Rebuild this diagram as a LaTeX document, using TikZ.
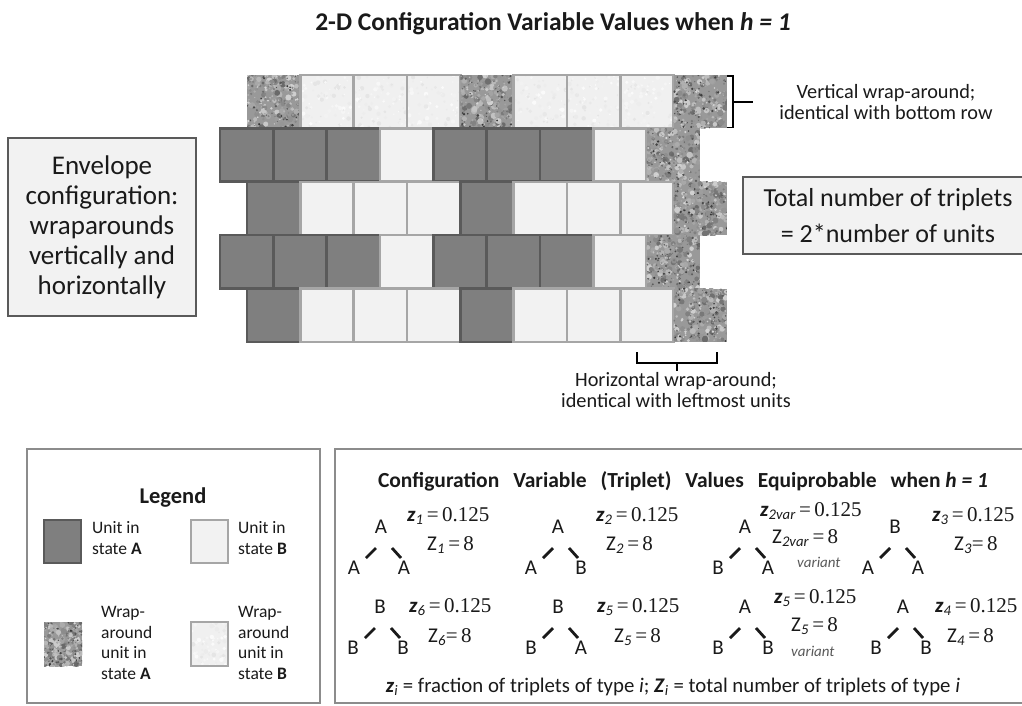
\documentclass[tikz,border=0pt]{standalone}
\usepackage{fontspec}
\setmainfont{Carlito}
\newfontfamily\numfont{Liberation Serif}
\usetikzlibrary{calc}

\definecolor{unitA}{HTML}{7F7F7F}
\definecolor{unitAedge}{HTML}{5A5A5A}
\definecolor{unitB}{HTML}{F2F2F2}
\definecolor{unitBedge}{HTML}{A6A6A6}
\definecolor{panel}{HTML}{F2F2F2}
\definecolor{panelEdge}{HTML}{5A5A5A}
\definecolor{frameEdge}{HTML}{8C8C8C}
\definecolor{ink}{HTML}{1A1A1A}

\newcommand\unitpitch{53.33}

% mottled granite texture for wrap-around units in state A
\newcommand\speckleA[4]{%
  \begin{scope}
    \clip (#1,#2) rectangle ++(#3,#4);
    \fill[black!40] (#1,#2) rectangle ++(#3,#4);
    \foreach \k in {1,...,120}{
      \pgfmathsetmacro\gx{#1+rnd*#3}
      \pgfmathsetmacro\gy{#2+rnd*#4}
      \pgfmathsetmacro\gr{1.3+rnd*2.0}
      \pgfmathtruncatemacro\gl{18+rnd*42}
      \fill[black!\gl] (\gx,\gy) circle[radius=\gr pt];
    }
    \foreach \k in {1,...,150}{
      \pgfmathsetmacro\gx{#1+rnd*#3}
      \pgfmathsetmacro\gy{#2+rnd*#4}
      \pgfmathsetmacro\gr{0.5+rnd*0.9}
      \pgfmathtruncatemacro\gl{15+rnd*65}
      \fill[black!\gl] (\gx,\gy) circle[radius=\gr pt];
    }
  \end{scope}}

% faint texture for wrap-around units in state B
\newcommand\speckleB[4]{%
  \begin{scope}
    \clip (#1,#2) rectangle ++(#3,#4);
    \fill[black!6] (#1,#2) rectangle ++(#3,#4);
    \foreach \k in {1,...,90}{
      \pgfmathsetmacro\gx{#1+rnd*#3}
      \pgfmathsetmacro\gy{#2+rnd*#4}
      \pgfmathsetmacro\gr{0.7+rnd*1.6}
      \pgfmathtruncatemacro\gl{2+rnd*9}
      \fill[black!\gl] (\gx,\gy) circle[radius=\gr pt];
    }
  \end{scope}
  \draw[unitBedge, line width=2.5pt] (#1,#2) rectangle ++(#3,#4);}

% one unit of each kind, at its top-left corner
\newcommand\cellA[2]{\draw[unitAcell] (#1,#2) rectangle ++(\unitpitch,\unitpitch);}
\newcommand\cellB[2]{\draw[unitBcell] (#1,#2) rectangle ++(\unitpitch,\unitpitch);}
\newcommand\cellWA[2]{\speckleA{#1}{#2}{\unitpitch}{\unitpitch}}
\newcommand\cellWB[2]{\speckleB{#1}{#2}{\unitpitch}{\unitpitch}}

% a row of units: left x, top y, list of kinds
\newcommand\unitrow[3]{%
  \foreach \kind [count=\i from 0] in {#3}{
    \pgfmathsetmacro\cx{#1+\i*\unitpitch}
    \csname cell\kind\endcsname{\cx}{#2}
  }}

% a triplet: name, x, y of the apex, apex / left / right states
\newcommand\triplet[6]{%
  \node[tletter] (#1a) at (#2,#3) {#4};
  \node[tletter] (#1l) at ($(#1a)+(-27,41)$) {#5};
  \node[tletter] (#1r) at ($(#1a)+(23,41)$) {#6};
  \draw[tline] ($(#1a)+(-5,21)$) -- ($(#1a)+(-15,31)$);
  \draw[tline] ($(#1a)+(11,21)$) -- ($(#1a)+(20,31)$);}

\newcommand\zf[1]{\textbf{\textit{z}}\textsubscript{\textit{#1}}}
\newcommand\ZN[1]{Z\textsubscript{\textit{#1}}}
\newcommand\eqs{\numfont\hspace{3.3pt}=\hspace{3.3pt}}
\newcommand\eqt{\numfont=\hspace{3.3pt}}
\newcommand\wgap{\hspace{14pt}}

\begin{document}
\begin{tikzpicture}[x=1pt,y=-1pt,
  unitAcell/.style={fill=unitA, draw=unitAedge, line width=2.5pt},
  unitBcell/.style={fill=unitB, draw=unitBedge, line width=2.5pt},
  panelbox/.style={fill=panel, draw=panelEdge, line width=2.7pt, align=center,
    inner sep=0pt, text=ink},
  framebox/.style={draw=frameEdge, line width=2pt, fill=white, inner sep=0pt},
  bracket/.style={draw=black, line width=1.8pt},
  note/.style={font=\fontsize{20.3}{21}\selectfont, align=center, text=ink},
  legtext/.style={font=\fontsize{17.5}{20.8}\selectfont, align=left, anchor=west,
    inner sep=0pt, text=ink},
  tletter/.style={font=\fontsize{21}{21}\selectfont, inner sep=0pt, text=ink},
  tline/.style={line width=2.8pt, draw=ink},
  zval/.style={font=\fontsize{21}{21}\selectfont, anchor=west, inner sep=0pt, text=ink},
  variantlab/.style={font=\itshape\fontsize{15}{15}\selectfont, anchor=west,
    inner sep=0pt, text=black!65},
]
\pgfmathsetseed{11}
\useasboundingbox (0,0) rectangle (1022,705);
\fill[white] (0,0) rectangle (1022,705);

% title
\node[font=\bfseries\fontsize{25.5}{28}\selectfont, text=ink] (title) at (553,24)
  {2-D Configuration Variable Values when \textit{h = 1}};

% lattice of units with its wrap-around row and column
\unitrow{247}{75}{WA,WB,WB,WB,WA,WB,WB,WB,WA}
\unitrow{220}{128.4}{A,A,A,B,A,A,A,B,WA}
\unitrow{247}{181.8}{A,B,B,B,A,B,B,B,WA}
\unitrow{220}{235.2}{A,A,A,B,A,A,A,B,WA}
\unitrow{247}{288.6}{A,B,B,B,A,B,B,B,WA}

% vertical wrap-around bracket and note
\coordinate (vbTop) at (727,76);
\coordinate (vbBot) at (727,127.5);
\draw[bracket] (vbTop) -- ++(6,0) |- (vbBot);
\draw[bracket] ($(vbTop)!0.5!(vbBot)+(6,0)$) -- ++(20,0) coordinate (vbTip);
\node[note] (vnote) at (886,102) {Vertical wrap-around;\\identical with bottom row};

% horizontal wrap-around bracket and note
\coordinate (hbL) at (637,352);
\coordinate (hbR) at (717,352);
\draw[bracket] (hbL) -- ++(0,11) -| (hbR);
\draw[bracket] ($(hbL)!0.5!(hbR)+(0,11)$) -- ++(0,8) coordinate (hbTip);
\node[note] (hnote) at (676,390) {Horizontal wrap-around;\\identical with leftmost units};

% side panels
\node[panelbox, minimum width=188pt, minimum height=178pt,
  font=\fontsize{27}{30}\selectfont] (envelope) at (102,227)
  {Envelope\\configuration:\\wraparounds\\vertically and\\horizontally};
\node[panelbox, minimum width=290pt, minimum height=77pt,
  font=\fontsize{26}{36}\selectfont] (total) at (888,215.5)
  {Total number of triplets\\= 2*number of units};

% legend
\node[framebox, minimum width=293pt, minimum height=254pt] (legend) at (173.5,576) {};
\node[font=\bfseries\fontsize{22.5}{24}\selectfont, text=ink] (legtitle) at (173,498) {Legend};
\draw[unitAcell] (44,520) rectangle (81,563);
\node[legtext] (legA) at (92,538) {Unit in\\state \textbf{A}};
\draw[unitBcell] (191,520) rectangle (228,563);
\node[legtext] (legB) at (238,538) {Unit in\\state \textbf{B}};
\speckleA{44}{622}{38}{44}
\node[legtext] (legWA) at (101,643) {Wrap-\\around\\unit in\\state \textbf{A}};
\speckleB{191}{622}{37}{44}
\node[legtext] (legWB) at (238,643) {Wrap-\\around\\unit in\\state \textbf{B}};

% triplet values panel
\node[framebox, minimum width=691pt, minimum height=254pt] (values) at (680.5,576) {};
\node[font=\bfseries\fontsize{21.5}{24}\selectfont, text=ink] (valtitle) at (683,481)
  {Configuration\wgap Variable\wgap (Triplet)\wgap Values\wgap Equiprobable\wgap when \textit{h = 1}};

\triplet{ta}{381}{527}{A}{A}{A}
\node[zval] (za) at (407,516) {\zf{1}\eqs 0.125};
\node[zval] (Za) at (427,545) {\ZN{1}\eqs 8};

\triplet{tb}{558}{527}{A}{A}{B}
\node[zval] (zb) at (596,516) {\zf{2}\eqs 0.125};
\node[zval] (Zb) at (606,545) {\ZN{2}\eqs 8};

\triplet{tc}{745}{527}{A}{B}{A}
\node[zval] (zc) at (760,511) {\zf{2var}\eqs 0.125};
\node[zval] (Zc) at (772,538) {\ZN{2var}\eqs 8};
\node[variantlab] (vc) at (797,562) {variant};

\triplet{td}{895}{527}{B}{A}{A}
\node[zval] (zd) at (932,516) {\zf{3}\eqs 0.125};
\node[zval] (Zd) at (954,545) {\ZN{3}\eqt 8};

\triplet{te}{380}{607}{B}{B}{B}
\node[zval] (ze) at (409,607) {\zf{6}\eqs 0.125};
\node[zval] (Ze) at (428,637) {\ZN{6}\eqt 8};

\triplet{tf}{558}{607}{B}{B}{A}
\node[zval] (zf) at (597,607) {\zf{5}\eqs 0.125};
\node[zval] (Zf) at (614,637) {\ZN{5}\eqs 8};

\triplet{tg}{745}{607}{A}{B}{B}
\node[zval] (zg) at (774,598) {\zf{5}\eqs 0.125};
\node[zval] (Zg) at (791,626) {\ZN{5}\eqs 8};
\node[variantlab] (vg) at (791,651) {variant};

\triplet{th}{903}{607}{A}{B}{B}
\node[zval] (zh) at (935,607) {\zf{4}\eqs 0.125};
\node[zval] (Zh) at (947,637) {\ZN{4}\eqs 8};

\node[font=\fontsize{20.8}{22}\selectfont, text=ink] (footer) at (673,687)
  {\zf{i} = fraction of triplets of type \textit{i}; \textbf{\textit{Z}}\textsubscript{\textit{i}} = total number of triplets of type \textit{i}};
\end{tikzpicture}
\end{document}
